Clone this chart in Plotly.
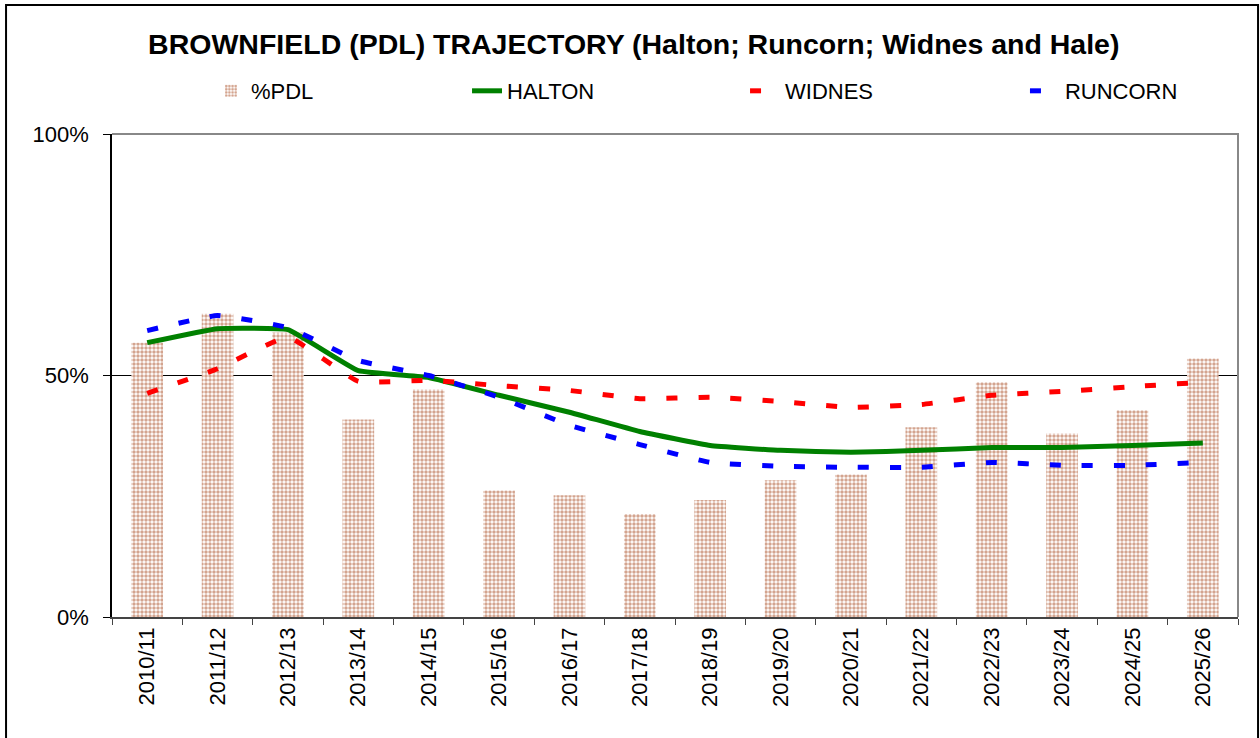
import plotly.graph_objects as go

years = ["2010/11", "2011/12", "2012/13", "2013/14", "2014/15", "2015/16", "2016/17", "2017/18",
         "2018/19", "2019/20", "2020/21", "2021/22", "2022/23", "2023/24", "2024/25", "2025/26"]
pdl = [56.8, 62.8, 58.9, 40.9, 47.1, 26.2, 25.2, 21.3, 24.2, 28.3, 29.5, 39.3, 48.6, 38.0, 42.8, 53.5]
halton = [56.8, 59.7, 59.5, 51.0, 49.6, 45.9, 42.4, 38.4, 35.5, 34.5, 34.1, 34.5, 35.1, 35.1, 35.5, 36.0]
widnes = [46.3, 51.4, 57.9, 48.8, 49.0, 47.9, 46.9, 45.2, 45.5, 44.6, 43.4, 44.0, 45.9, 46.7, 47.7, 48.6]
runcorn = [59.3, 62.4, 59.9, 53.1, 50.0, 45.5, 39.7, 35.7, 32.0, 31.2, 31.0, 31.0, 32.0, 31.4, 31.4, 32.0]

def frac(v):
    return [x / 100 for x in v]

FONT = "Liberation Sans, Arial, sans-serif"
LEG_FONT = dict(family=FONT, size=22, color="black")

fig = go.Figure()
fig.add_trace(go.Bar(
    x=years, y=frac(pdl), name="%PDL", width=0.45, legend="legend",
    marker=dict(color="white", line=dict(width=0),
                pattern=dict(shape=".", fgcolor="#a84a20", bgcolor="white",
                             size=4, solidity=0.6, fillmode="overlay")),
))
fig.add_trace(go.Scatter(
    x=years, y=frac(halton), name="HALTON", mode="lines", legend="legend2",
    line=dict(color="#008000", width=5, shape="spline", smoothing=0.3),
))
fig.add_trace(go.Scatter(
    x=years, y=frac(widnes), name="WIDNES", mode="lines", legend="legend3",
    line=dict(color="#ff0000", width=5, dash="11px,21px", shape="spline", smoothing=0.35),
))
fig.add_trace(go.Scatter(
    x=years, y=frac(runcorn), name="RUNCORN", mode="lines", legend="legend4",
    line=dict(color="#0000ff", width=5, dash="11px,21px", shape="spline", smoothing=0.35),
))

def leg(x):
    return dict(orientation="h", x=x, xanchor="left", y=1.089, yanchor="middle",
                font=LEG_FONT, bgcolor="rgba(0,0,0,0)")

fig.update_layout(
    width=1260, height=738,
    margin=dict(l=112, r=22, t=134, b=121, autoexpand=False),
    paper_bgcolor="white", plot_bgcolor="white",
    font=dict(family=FONT, size=22, color="black"),
    title=dict(text="<b>BROWNFIELD (PDL) TRAJECTORY (Halton; Runcorn; Widnes and Hale)</b>",
               x=0.503, xanchor="center", y=0.941, yanchor="middle",
               font=dict(family=FONT, size=28.5, color="black")),
    showlegend=True,
    legend=leg(0.0879), legend2=leg(0.3153), legend3=leg(0.5622), legend4=leg(0.8108),
    xaxis=dict(type="category", showline=True, linecolor="#444444", linewidth=1.5,
               ticks="outside", ticklen=6, tickcolor="#444444", tickson="boundaries",
               tickangle=-90, showgrid=False, tickfont=dict(family=FONT, size=22),
               range=[-0.5, 15.5], automargin=False),
    yaxis=dict(range=[0, 1], dtick=0.5, tickformat=".0%", showline=True, linecolor="black",
               linewidth=1.5, ticks="outside", ticklen=7, tickcolor="black",
               showgrid=True, gridcolor="black", gridwidth=1, zeroline=False,
               tickfont=dict(family=FONT, size=22), ticklabelstandoff=10, automargin=False),
    shapes=[
        dict(type="path", xref="paper", yref="paper", path="M 0,1 L 1,1 L 1,0",
             line=dict(color="#888888", width=2), layer="above"),
        dict(type="rect", xref="paper", yref="paper", x0=-0.0941, x1=1.0178, y0=-0.30, y1=1.267,
             line=dict(color="black", width=2), layer="below"),
    ],
)

fig.write_html("out.html", config={"displayModeBar": False},
               post_script="document.body.style.margin='0';")
